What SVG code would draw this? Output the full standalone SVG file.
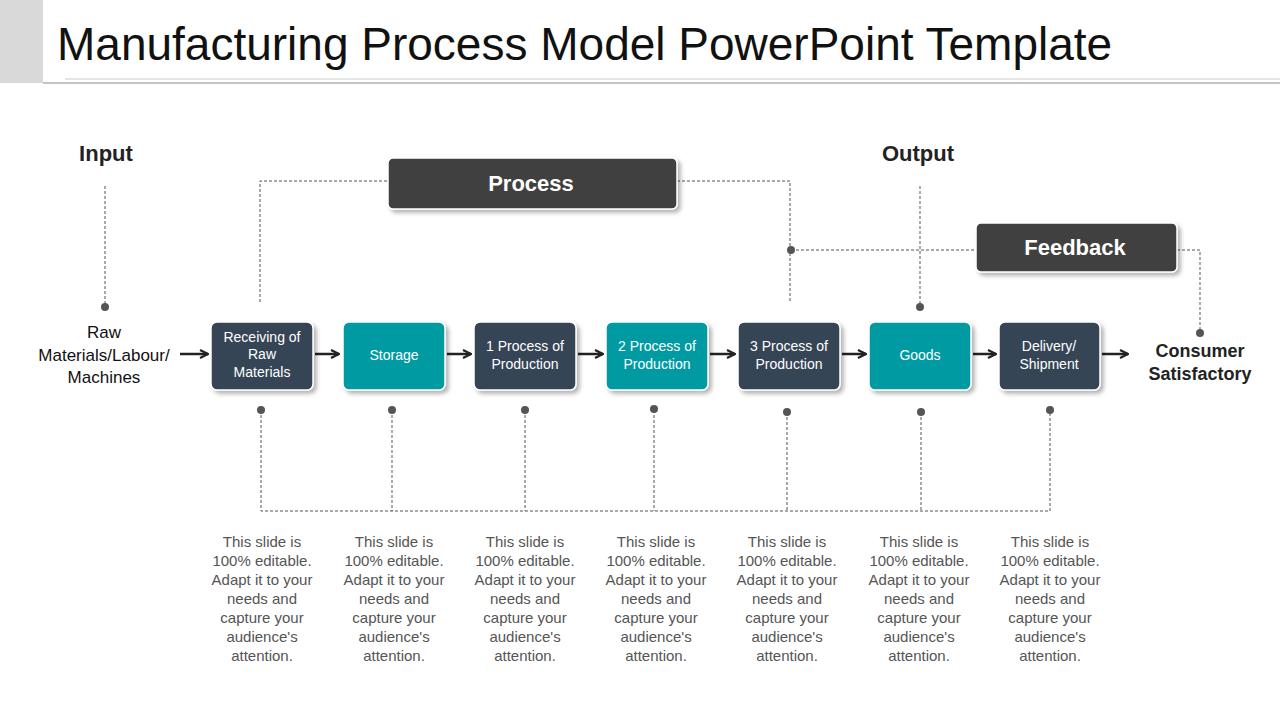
<svg xmlns="http://www.w3.org/2000/svg" width="1280" height="720" viewBox="0 0 1280 720">
<defs>
<style>
.d{fill:#344556}.t{fill:#009aa2}
.bx{stroke:#fff;stroke-width:1.5;filter:url(#sh)}
.bt{font-family:"Liberation Sans",Arial,sans-serif;font-size:14px;fill:#fff;text-anchor:middle}
.dash{stroke:#555;stroke-width:1;stroke-dasharray:3 2;fill:none}
.arr{stroke:#222;stroke-width:2.5;fill:none;marker-end:url(#ah)}
.dot{fill:#555}
.desc{font-family:"Liberation Sans",Arial,sans-serif;font-size:15px;fill:#555;text-anchor:middle}
.lbl{font-family:"Liberation Sans",Arial,sans-serif;font-weight:bold;fill:#222;text-anchor:middle}
.hd{fill:#404040;stroke:#fff;stroke-width:1.5;filter:url(#sh)}
</style>
<filter id="sh" x="-10%" y="-10%" width="130%" height="140%"><feDropShadow dx="3" dy="3" stdDeviation="2" flood-color="#000" flood-opacity="0.3"/></filter>
<marker id="ah" viewBox="0 0 10 10" refX="9" refY="5" markerWidth="4" markerHeight="4" orient="auto"><path d="M1,1 L9,5 L1,9" fill="none" stroke="#222" stroke-width="2.2"/></marker>
</defs>
<rect width="1280" height="720" fill="#fff"/>
<rect x="0" y="0" width="43" height="83" fill="#d9d9d9"/>
<line x1="65" y1="79" x2="1280" y2="79" stroke="#ccc" stroke-width="1"/>
<line x1="43" y1="83" x2="1280" y2="83" stroke="#888" stroke-width="1"/>
<text x="57" y="60" font-family="Liberation Sans,Arial,sans-serif" font-size="46" fill="#111">Manufacturing Process Model PowerPoint Template</text>

<g id="connectors">
<path class="dash" d="M105,186 V307"/>
<path class="dash" d="M260,302 V181 H388"/>
<path class="dash" d="M677,181 H790 V302"/>
<path class="dash" d="M791,250 H976"/>
<path class="dash" d="M1177,250 H1200 V333"/>
<path class="dash" d="M920,186 V307"/>
<path class="dash" d="M261,410 V511 H1050 V410"/>
<path class="dash" d="M392,410 V511 M525,410 V511 M654,410 V511 M787,412 V511 M921,412 V511"/>
<circle class="dot" cx="105" cy="307" r="4"/>
<circle class="dot" cx="791" cy="250" r="4"/>
<circle class="dot" cx="920" cy="307" r="4"/>
<circle class="dot" cx="1200" cy="333" r="4"/>
<circle class="dot" cx="261" cy="410" r="4"/>
<circle class="dot" cx="392" cy="410" r="4"/>
<circle class="dot" cx="525" cy="410" r="4"/>
<circle class="dot" cx="654" cy="409" r="4"/>
<circle class="dot" cx="787" cy="412" r="4"/>
<circle class="dot" cx="921" cy="412" r="4"/>
<circle class="dot" cx="1050" cy="410" r="4"/>
<line class="arr" x1="180" y1="354" x2="208" y2="354"/>
<line class="arr" x1="315" y1="354" x2="339" y2="354"/>
<line class="arr" x1="447" y1="354" x2="471" y2="354"/>
<line class="arr" x1="578" y1="354" x2="603" y2="354"/>
<line class="arr" x1="710" y1="354" x2="735" y2="354"/>
<line class="arr" x1="842" y1="354" x2="866" y2="354"/>
<line class="arr" x1="973" y1="354" x2="996" y2="354"/>
<line class="arr" x1="1102" y1="354" x2="1128" y2="354"/>
</g>

<g id="labels">
<text class="lbl" x="106" y="161" font-size="22">Input</text>
<text class="lbl" x="918" y="161" font-size="22">Output</text>
<text x="104" y="338" font-family="Liberation Sans,Arial,sans-serif" font-size="17" fill="#111" text-anchor="middle">Raw</text>
<text x="104" y="361" font-family="Liberation Sans,Arial,sans-serif" font-size="17" fill="#111" text-anchor="middle">Materials/Labour/</text>
<text x="104" y="383" font-family="Liberation Sans,Arial,sans-serif" font-size="17" fill="#111" text-anchor="middle">Machines</text>
<text class="lbl" x="1200" y="357" font-size="18">Consumer</text>
<text class="lbl" x="1200" y="380" font-size="18">Satisfactory</text>
</g>

<g id="process"><rect class="hd" x="388" y="158" width="289" height="51" rx="5"/><text class="lbl" x="531" y="191" font-size="22" style="fill:#fff">Process</text></g>
<g id="feedback"><rect class="hd" x="976" y="223" width="201" height="49" rx="5"/><text class="lbl" x="1075" y="255" font-size="22" style="fill:#fff">Feedback</text></g>

<g id="n1"><rect class="bx d" x="211" y="322" width="102" height="68" rx="6"/><text class="bt" x="262" y="342">Receiving of</text><text class="bt" x="262" y="359">Raw</text><text class="bt" x="262" y="377">Materials</text></g>
<g id="n2"><rect class="bx t" x="343" y="322" width="102" height="68" rx="6"/><text class="bt" x="394" y="360">Storage</text></g>
<g id="n3"><rect class="bx d" x="474" y="322" width="102" height="68" rx="6"/><text class="bt" x="525" y="351">1 Process of</text><text class="bt" x="525" y="369">Production</text></g>
<g id="n4"><rect class="bx t" x="606" y="322" width="102" height="68" rx="6"/><text class="bt" x="657" y="351">2 Process of</text><text class="bt" x="657" y="369">Production</text></g>
<g id="n5"><rect class="bx d" x="738" y="322" width="102" height="68" rx="6"/><text class="bt" x="789" y="351">3 Process of</text><text class="bt" x="789" y="369">Production</text></g>
<g id="n6"><rect class="bx t" x="869" y="322" width="102" height="68" rx="6"/><text class="bt" x="920" y="360">Goods</text></g>
<g id="n7"><rect class="bx d" x="999" y="322" width="101" height="68" rx="6"/><text class="bt" x="1049" y="351">Delivery/</text><text class="bt" x="1049" y="369">Shipment</text></g>

<g id="descriptions">
<text class="desc" y="547"><tspan x="262">This slide is</tspan><tspan x="262" dy="19">100% editable.</tspan><tspan x="262" dy="19">Adapt it to your</tspan><tspan x="262" dy="19">needs and</tspan><tspan x="262" dy="19">capture your</tspan><tspan x="262" dy="19">audience's</tspan><tspan x="262" dy="19">attention.</tspan></text>
<text class="desc" y="547"><tspan x="394">This slide is</tspan><tspan x="394" dy="19">100% editable.</tspan><tspan x="394" dy="19">Adapt it to your</tspan><tspan x="394" dy="19">needs and</tspan><tspan x="394" dy="19">capture your</tspan><tspan x="394" dy="19">audience's</tspan><tspan x="394" dy="19">attention.</tspan></text>
<text class="desc" y="547"><tspan x="525">This slide is</tspan><tspan x="525" dy="19">100% editable.</tspan><tspan x="525" dy="19">Adapt it to your</tspan><tspan x="525" dy="19">needs and</tspan><tspan x="525" dy="19">capture your</tspan><tspan x="525" dy="19">audience's</tspan><tspan x="525" dy="19">attention.</tspan></text>
<text class="desc" y="547"><tspan x="656">This slide is</tspan><tspan x="656" dy="19">100% editable.</tspan><tspan x="656" dy="19">Adapt it to your</tspan><tspan x="656" dy="19">needs and</tspan><tspan x="656" dy="19">capture your</tspan><tspan x="656" dy="19">audience's</tspan><tspan x="656" dy="19">attention.</tspan></text>
<text class="desc" y="547"><tspan x="787">This slide is</tspan><tspan x="787" dy="19">100% editable.</tspan><tspan x="787" dy="19">Adapt it to your</tspan><tspan x="787" dy="19">needs and</tspan><tspan x="787" dy="19">capture your</tspan><tspan x="787" dy="19">audience's</tspan><tspan x="787" dy="19">attention.</tspan></text>
<text class="desc" y="547"><tspan x="919">This slide is</tspan><tspan x="919" dy="19">100% editable.</tspan><tspan x="919" dy="19">Adapt it to your</tspan><tspan x="919" dy="19">needs and</tspan><tspan x="919" dy="19">capture your</tspan><tspan x="919" dy="19">audience's</tspan><tspan x="919" dy="19">attention.</tspan></text>
<text class="desc" y="547"><tspan x="1050">This slide is</tspan><tspan x="1050" dy="19">100% editable.</tspan><tspan x="1050" dy="19">Adapt it to your</tspan><tspan x="1050" dy="19">needs and</tspan><tspan x="1050" dy="19">capture your</tspan><tspan x="1050" dy="19">audience's</tspan><tspan x="1050" dy="19">attention.</tspan></text>
</g>
</svg>
